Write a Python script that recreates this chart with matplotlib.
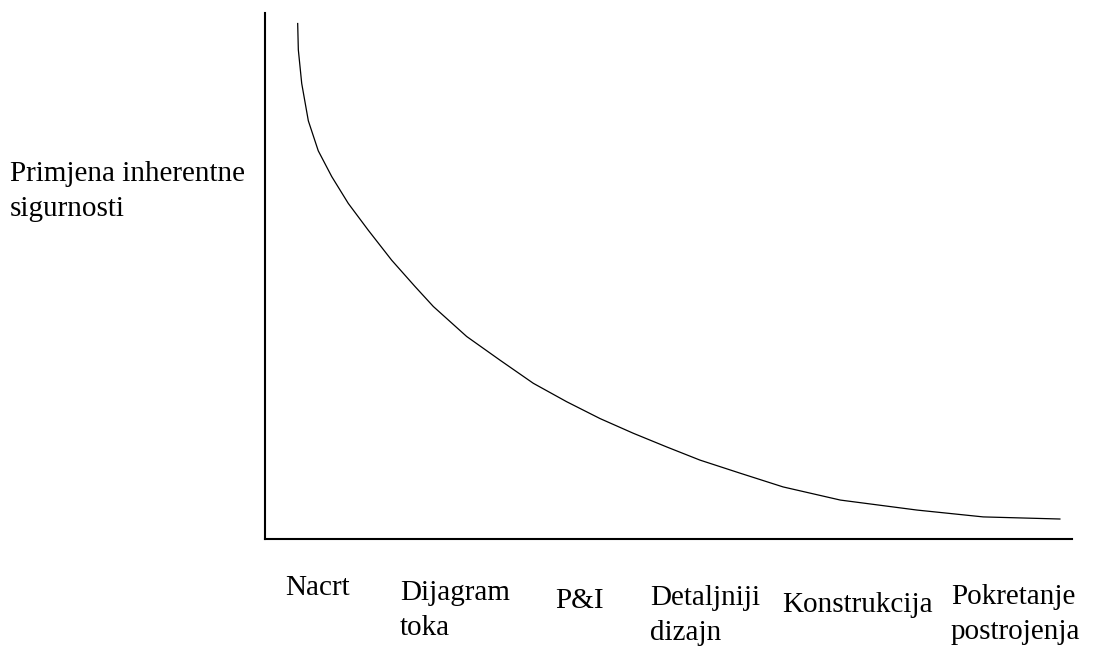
import numpy as np
import matplotlib.pyplot as plt
import matplotlib

matplotlib.rc('font', family='Liberation Serif')
matplotlib.rc('font', size=21)

# faze projekta (tekst ispod osi)
faze = ["Nacrt", "Dijagram\ntoka", "P&I", "Detaljniji\ndizajn", "Konstrukcija", "Pokretanje\npostrojenja"]
faze_x = [285, 400, 555, 650, 782, 951]   # lijevi rub teksta, px
faze_y = [575, 580, 588, 585, 592, 584]   # vrh teksta, px

# krivulja - procitano sa slike (os x i y 0..100)
kx = [4.05, 4.13, 4.55, 5.37, 6.60, 8.27, 10.32, 12.80, 15.70, 18.59, 20.86, 24.99, 29.12,
      33.25, 37.38, 41.51, 45.64, 49.78, 53.9, 58.9, 64.2, 71.3, 80.8, 89.0, 98.5]
ky = [98.0, 93.0, 86.6, 79.5, 73.8, 68.9, 63.8, 58.7, 53.0, 48.0, 44.2, 38.5, 34.0,
      29.6, 26.1, 22.9, 20.1, 17.5, 15.0, 12.5, 9.9, 7.4, 5.5, 4.2, 3.8]

W, H = 1099, 651
fig = plt.figure(figsize=(W/100, H/100), dpi=100)
ax = fig.add_axes([265/W, 1-539/H, (1072-265)/W, (539-13)/H])

ax.plot(kx, ky, color='black', linewidth=0.9, solid_joinstyle='round')
ax.set_xlim(0, 100)
ax.set_ylim(0, 100)
ax.spines['top'].set_visible(False)
ax.spines['right'].set_visible(False)
ax.spines['left'].set_linewidth(1.5)
ax.spines['bottom'].set_linewidth(1.5)
ax.set_xticks([])
ax.set_yticks([])

fig.text(10/W, 1-161/H, "Primjena inherentne\nsigurnosti", ha='left', va='top', linespacing=1.45)
for t, x, y in zip(faze, faze_x, faze_y):
    fig.text(x/W, 1-y/H, t, ha='left', va='top', linespacing=1.45)

plt.savefig("out.png", dpi=100)
